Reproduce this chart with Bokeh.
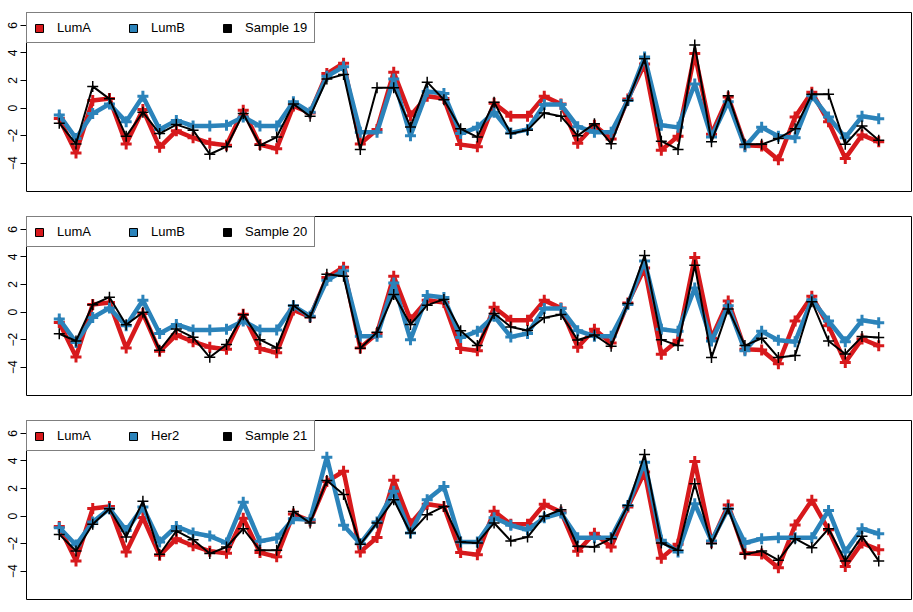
from bokeh.plotting import figure
from bokeh.layouts import column
from bokeh.models import Legend, LegendItem, Range1d, FixedTicker
from bokeh.embed import file_html
from bokeh.resources import INLINE

genes = list(range(1, 51))
y_ticks = [-4, -2, 0, 2, 4, 6]

luma = [-0.75, -3.25, 0.55, 0.7, -2.6, -0.1, -2.85, -1.65, -2.15, -2.55,
        -2.7, -0.15, -2.65, -2.95, 0.15, -0.35, 2.5, 3.25, -2.6, -1.55,
        2.6, -0.55, 0.85, 0.7, -2.65, -2.8, 0.35, -0.6, -0.6, 0.85,
        0.3, -2.55, -1.25, -2.25, 0.65, 3.2, -3.05, -2.05, 3.95, -1.9,
        0.8, -2.7, -2.75, -3.75, -0.65, 1.15, -1.0, -3.65, -1.95, -2.45]
lumb = [-0.5, -2.2, -0.4, 0.3, -1.0, 0.85, -1.55, -0.9, -1.3, -1.3,
        -1.25, -0.65, -1.3, -1.3, 0.45, -0.3, 2.3, 3.0, -1.75, -1.75,
        2.1, -2.0, 1.2, 1.05, -1.85, -1.4, -0.3, -1.8, -1.55, 0.25,
        0.25, -1.35, -1.75, -1.75, 0.55, 3.7, -1.25, -1.4, 1.75, -2.1,
        0.45, -2.8, -1.4, -2.05, -2.15, 0.9, -0.65, -2.15, -0.6, -0.77]
her2 = [-0.84, -2.1, -0.43, 0.53, -1.04, 0.65, -1.88, -0.75, -1.23, -1.45,
        -1.95, 1.0, -1.83, -1.6, -0.2, -0.27, 4.27, -0.67, -2.0, -0.43,
        1.8, -1.23, 1.18, 2.14, -1.88, -1.88, -0.12, -0.67, -0.99, -0.12,
        0.22, -1.57, -1.57, -1.55, 0.77, 3.9, -1.76, -2.6, 0.89, -1.8,
        0.53, -1.95, -1.64, -1.57, -1.57, -1.57, 0.41, -2.6, -0.92, -1.28]
sample19 = [-1.1, -2.6, 1.57, 0.67, -2.05, -0.3, -1.85, -1.2, -1.6, -3.35,
            -2.8, -0.4, -2.7, -2.1, 0.3, -0.6, 2.1, 2.43, -3.0, 1.47,
            1.47, -1.37, 1.88, 0.6, -1.5, -2.1, 0.43, -1.85, -1.6, -0.36,
            -0.6, -2.0, -1.13, -2.58, 0.55, 3.57, -2.4, -3.0, 4.58, -2.45,
            0.9, -2.63, -2.63, -2.2, -1.5, 1.0, 1.0, -2.63, -1.3, -2.33]
sample20 = [-1.57, -2.1, 0.53, 1.08, -0.92, -0.02, -2.77, -1.23, -1.83, -3.28,
            -2.36, -0.2, -2.0, -2.6, 0.48, -0.39, 2.75, 2.6, -2.63, -1.47,
            1.28, -0.9, 0.5, 0.92, -1.35, -2.43, -0.1, -1.08, -1.33, -0.41,
            -0.17, -2.02, -1.66, -2.48, 0.63, 4.1, -2.0, -2.43, 3.4, -3.3,
            0.22, -2.43, -1.9, -3.3, -3.15, 0.75, -2.1, -3.04, -1.78, -1.85]
sample21 = [-1.33, -2.53, -0.6, 0.53, -1.52, 1.08, -2.77, -1.08, -1.71, -2.72,
            -2.24, -0.92, -2.48, -2.48, 0.34, -0.5, 2.58, 1.57, -2.05, -0.5,
            1.18, -1.23, 0.1, 0.7, -1.88, -1.95, -0.5, -1.8, -1.52, -0.02,
            0.46, -2.19, -2.24, -1.64, 0.77, 4.46, -1.95, -2.48, 2.34, -2.0,
            0.53, -2.77, -2.53, -3.2, -1.64, -2.29, -0.92, -3.25, -1.47, -3.25]

panels = [
    ("LumA", luma, "LumB", lumb, "Sample 19", sample19),
    ("LumA", luma, "LumB", lumb, "Sample 20", sample20),
    ("LumA", luma, "Her2", her2, "Sample 21", sample21),
]

RED = "#D7191C"
BLUE = "#2B83BA"
BLACK = "#000000"
FONT = "Liberation Sans"
NAN = float("nan")

heights = [204, 204, 203]
borders_bottom = [13, 13, 12]

figs = []
for (n1, v1, n2, v2, n3, v3), h, bb in zip(panels, heights, borders_bottom):
    p = figure(width=912, height=h, output_backend="svg", toolbar_location=None,
               x_range=Range1d(-0.96, 51.96), y_range=Range1d(-6.05, 6.93),
               x_axis_location=None, min_border_top=12, min_border_bottom=bb,
               min_border_left=26, min_border_right=1)
    p.grid.visible = False
    p.outline_line_color = "black"
    p.outline_line_width = 1
    p.outline_line_alpha = 1
    p.background_fill_color = "white"
    p.border_fill_color = "white"

    ax = p.yaxis[0]
    ax.ticker = FixedTicker(ticks=y_ticks)
    ax.major_label_orientation = "vertical"
    ax.axis_line_color = None
    ax.major_tick_out = 6
    ax.major_tick_in = 0
    ax.major_tick_line_color = "black"
    ax.minor_tick_line_color = None
    ax.major_label_standoff = 3
    ax.major_label_text_font = FONT
    ax.major_label_text_font_size = "12px"
    ax.major_label_text_color = "black"

    for vals, col, lw, mlw in ((v1, RED, 4.5, 3), (v2, BLUE, 4.5, 3), (v3, BLACK, 2, 1.5)):
        p.line(genes, vals, line_color=col, line_width=lw)
        p.scatter(genes, vals, marker="cross", size=11, line_color=col, line_width=mlw)

    swatches = []
    for col in (RED, BLUE, BLACK):
        swatches.append(p.quad(left=[NAN], right=[NAN], top=[NAN], bottom=[NAN],
                                fill_color=col, line_color="black", line_width=1))
    legend = Legend(items=[LegendItem(label=n1, renderers=[swatches[0]], index=0),
                           LegendItem(label=n2, renderers=[swatches[1]], index=0),
                           LegendItem(label=n3, renderers=[swatches[2]], index=0)],
                    location="top_left", orientation="horizontal", margin=0,
                    padding=7, spacing=13, label_standoff=13, label_width=58,
                    label_height=12, glyph_width=10, glyph_height=10,
                    border_line_color="black", border_line_width=1,
                    background_fill_color="white", background_fill_alpha=1,
                    label_text_font=FONT, label_text_font_size="13px",
                    label_text_color="black")
    p.add_layout(legend, "center")
    figs.append(p)

layout = column(*figs, spacing=0)
open("out.html", "w").write(file_html(layout, INLINE))
